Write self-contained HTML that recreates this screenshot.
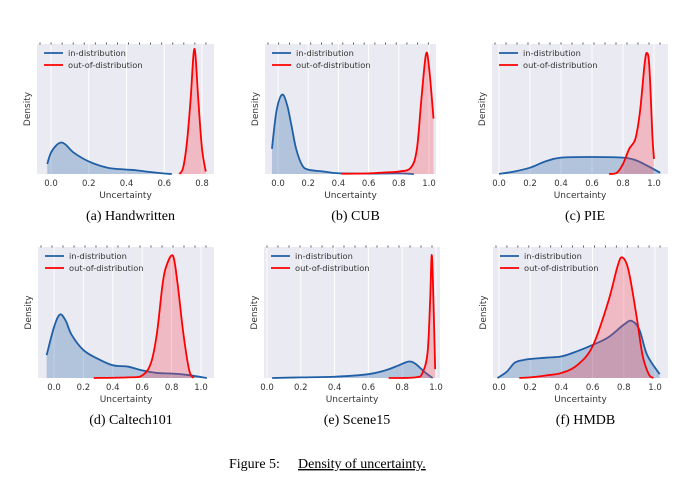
<!DOCTYPE html>
<html><head><meta charset="utf-8"><style>
html,body{margin:0;padding:0;background:#fff;}
svg{display:block;font-family:"DejaVu Sans","Liberation Sans",sans-serif;}
</style></head><body>
<svg id="fig" width="699" height="492" viewBox="0 0 699 492">
<text x="229" y="468" font-family="Liberation Serif, serif" font-size="14" fill="#000">Figure 5:</text>
<text x="298" y="468" font-family="Liberation Serif, serif" font-size="14" fill="#000" text-decoration="underline">Density of uncertainty.</text>
</svg>
<script>
// ---- data (uncertainty values and density heights as fraction of max) ----
const titles = ["(a) Handwritten","(b) CUB","(c) PIE","(d) Caltech101","(e) Scene15","(f) HMDB"];
const tickLabelsA = ["0.0","0.2","0.4","0.6","0.8"];
const tickValuesA = [0,0.2,0.4,0.6,0.8];
const tickLabelsB = ["0.0","0.2","0.4","0.6","0.8","1.0"];
const tickValuesB = [0,0.2,0.4,0.6,0.8,1.0];
const inX_a=[-0.02,0,0.03,0.055,0.08,0.12,0.2,0.3,0.4,0.45,0.5,0.6,0.64];
const inY_a=[0.08,0.17,0.23,0.25,0.23,0.17,0.10,0.05,0.035,0.03,0.02,0.004,0];
const oodX_a=[0.68,0.70,0.72,0.74,0.755,0.765,0.78,0.80,0.82];
const oodY_a=[0,0.05,0.25,0.6,0.95,0.95,0.6,0.2,0.02];
const inX_b=[-0.04,-0.01,0.027,0.06,0.09,0.12,0.16,0.2,0.3,0.4,0.6,0.8,0.9];
const inY_b=[0.2,0.5,0.63,0.55,0.38,0.2,0.07,0.035,0.02,0.006,0.003,0.005,0];
const oodX_b=[0.42,0.6,0.7,0.8,0.88,0.92,0.95,0.98,1.0,1.03];
const oodY_b=[0.002,0.005,0.012,0.02,0.05,0.2,0.6,0.95,0.85,0.44];
const inX_c=[0,0.1,0.2,0.3,0.4,0.6,0.8,0.88,0.95,1.04];
const inY_c=[0,0.02,0.05,0.1,0.13,0.135,0.13,0.11,0.07,0.01];
const oodX_c=[0.71,0.76,0.8,0.84,0.88,0.91,0.94,0.955,0.97,0.99,1.0];
const oodY_c=[0,0.01,0.08,0.2,0.28,0.5,0.88,0.96,0.85,0.3,0.12];
const inX_d=[-0.05,0,0.04,0.08,0.12,0.2,0.3,0.4,0.5,0.6,0.7,0.8,0.9,1.04];
const inY_d=[0.18,0.4,0.5,0.45,0.34,0.22,0.15,0.1,0.09,0.06,0.04,0.035,0.025,0];
const oodX_d=[0.27,0.5,0.6,0.66,0.7,0.74,0.77,0.81,0.84,0.88,0.92,0.95];
const oodY_d=[0,0.005,0.02,0.12,0.35,0.75,0.9,0.96,0.75,0.35,0.06,0];
const inX_e=[0.03,0.2,0.4,0.6,0.7,0.78,0.84,0.88,0.93,0.98];
const inY_e=[0,0.005,0.01,0.03,0.06,0.1,0.13,0.11,0.05,0];
const oodX_e=[0.72,0.88,0.92,0.95,0.965,0.975,0.985,0.995];
const oodY_e=[0,0.005,0.04,0.2,0.6,0.97,0.6,0.07];
const inX_f=[-0.01,0.05,0.1,0.15,0.2,0.3,0.4,0.5,0.6,0.7,0.8,0.85,0.9,0.95,1.03];
const inY_f=[0,0.05,0.12,0.14,0.15,0.16,0.17,0.21,0.26,0.32,0.42,0.45,0.38,0.18,0.03];
const oodX_f=[0.13,0.2,0.3,0.4,0.5,0.6,0.7,0.76,0.79,0.83,0.88,0.92,0.96,0.99];
const oodY_f=[0,0.005,0.02,0.04,0.1,0.25,0.6,0.88,0.95,0.85,0.5,0.18,0.03,0];

const NS="http://www.w3.org/2000/svg";
const svg=document.getElementById('fig');
const layouts=[
 {l:37,r:214,t:44,b:174,x0:51,x1:51+188.75},
 {l:265,r:436,t:44,b:174,x0:278,x1:429},
 {l:492,r:668,t:44,b:174,x0:499,x1:654},
 {l:38,r:214,t:247,b:378,x0:54,x1:201},
 {l:264,r:440,t:247,b:378,x0:267,x1:436},
 {l:493,r:668,t:247,b:378,x0:499,x1:655}
];
const series=[
 [inX_a,inY_a,oodX_a,oodY_a],[inX_b,inY_b,oodX_b,oodY_b],[inX_c,inY_c,oodX_c,oodY_c],
 [inX_d,inY_d,oodX_d,oodY_d],[inX_e,inY_e,oodX_e,oodY_e],[inX_f,inY_f,oodX_f,oodY_f]
];
const panelNames=["handwritten","cub","pie","caltech101","scene15","hmdb"];
function mk(tag,attrs,parent){const e=document.createElementNS(NS,tag);for(const k in attrs)e.setAttribute(k,attrs[k]);(parent||svg).appendChild(e);return e;}
function smooth(pts){
  let d="M"+pts[0][0].toFixed(2)+","+pts[0][1].toFixed(2);
  for(let i=0;i<pts.length-1;i++){
    const p0=pts[Math.max(i-1,0)],p1=pts[i],p2=pts[i+1],p3=pts[Math.min(i+2,pts.length-1)];
    const c1=[p1[0]+(p2[0]-p0[0])/6,p1[1]+(p2[1]-p0[1])/6];
    const c2=[p2[0]-(p3[0]-p1[0])/6,p2[1]-(p3[1]-p1[1])/6];
    d+=" C"+c1[0].toFixed(2)+","+c1[1].toFixed(2)+" "+c2[0].toFixed(2)+","+c2[1].toFixed(2)+" "+p2[0].toFixed(2)+","+p2[1].toFixed(2);
  }
  return d;
}
layouts.forEach((L,i)=>{
  const g=mk('g',{});
  
  
  const xs=v=>L.x0+v*(L.x1-L.x0);
  const ys=v=>L.b-v*(L.b-L.t-4);
  const bg=mk('rect',{x:L.l,y:L.t,width:L.r-L.l,height:L.b-L.t,fill:'#eaeaf2'},g);
  
  
  const tv=i===0?tickValuesA:tickValuesB, tl=i===0?tickLabelsA:tickLabelsB;
  tv.forEach((v,k)=>{
    const gl=mk('line',{x1:xs(v),x2:xs(v),y1:L.t,y2:L.b,stroke:'#fff','stroke-width':1},g);
    
    
    const t=mk('text',{x:xs(v),y:L.b+12,'text-anchor':'middle','font-size':8.5,fill:'#333'},g);
    t.textContent=tl[k];
    
    
  });
  for(let x=L.l+3;x<L.r;x+=(L.r-L.l)/16){mk('line',{x1:x,x2:x,y1:L.t-1.5,y2:L.t+0.5,stroke:'#333','stroke-width':0.8},g);}
  const [ix,iy,ox,oy]=series[i];
  const draw=(X,Y,col,fill,name)=>{
    const pts=X.map((x,k)=>[xs(x),ys(Y[k])]);
    const line=smooth(pts);
    const area=mk('path',{d:line+" L"+pts[pts.length-1][0]+","+L.b+" L"+pts[0][0]+","+L.b+" Z",fill:fill,stroke:'none'},g);
    
    
    const p=mk('path',{d:line,fill:'none',stroke:col,'stroke-width':1.8},g);
    
    
  };
  draw(ix,iy,'#1f5fa5','rgba(31,95,165,0.28)','in-distribution');
  draw(ox,oy,'#ff0000','rgba(255,60,80,0.28)','out-of-distribution');
  const lx=L.l+7, ly=L.t+9;
  mk('line',{x1:lx,x2:lx+19,y1:ly,y2:ly,stroke:'#1f5fa5','stroke-width':1.8},g);
  mk('line',{x1:lx,x2:lx+19,y1:ly+12,y2:ly+12,stroke:'#ff0000','stroke-width':1.8},g);
  const t1=mk('text',{x:lx+24,y:ly+3,'font-size':8.3,fill:'#333'},g);t1.textContent='in-distribution';
  
  
  const t2=mk('text',{x:lx+24,y:ly+15,'font-size':8.3,fill:'#333'},g);t2.textContent='out-of-distribution';
  
  
  const xl=mk('text',{x:(L.l+L.r)/2,y:L.b+24,'text-anchor':'middle','font-size':9,fill:'#333'},g);xl.textContent='Uncertainty';
  
  
  const cy=(L.t+L.b)/2;
  const yl=mk('text',{x:L.l-7,y:cy,'text-anchor':'middle','font-size':9,fill:'#333',transform:`rotate(-90 ${L.l-7} ${cy})`},g);yl.textContent='Density';
  
  
  const cap=mk('text',{x:(L.l+L.r)/2+5,y:L.b+46,'text-anchor':'middle','font-size':14,fill:'#000','font-family':'Liberation Serif, serif'},g);cap.textContent=titles[i];
  
  
});
</script>
</body></html>
